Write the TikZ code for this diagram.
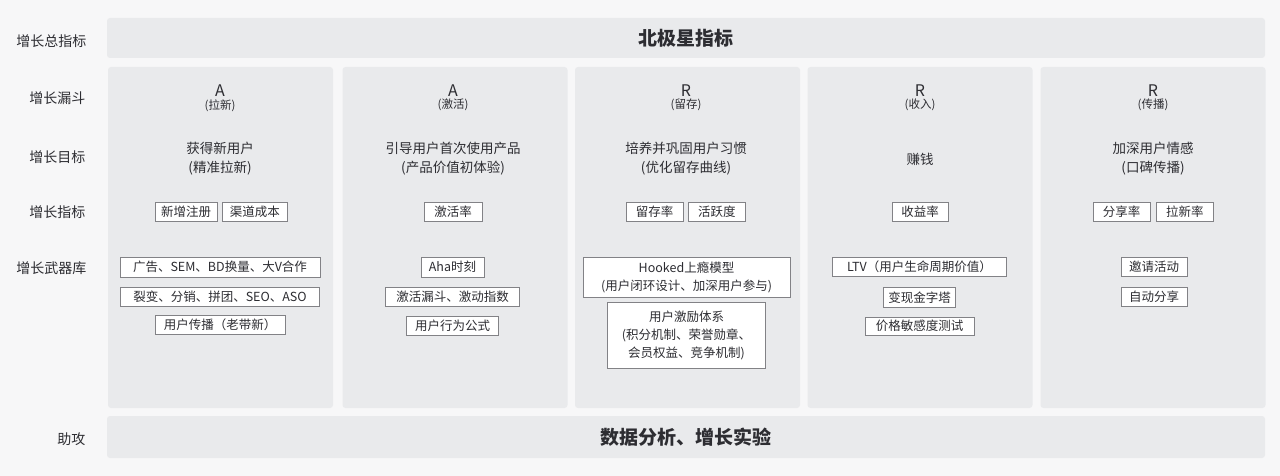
\documentclass[tikz,border=0pt]{standalone}
\usepackage{fontspec}
\newfontfamily\cjk{Noto Sans CJK SC}
\usetikzlibrary{positioning}
\definecolor{pagebg}{RGB}{247,247,248}
\definecolor{panelgray}{RGB}{233,234,236}
\definecolor{inkgray}{RGB}{45,45,50}
\definecolor{edgegray}{RGB}{130,130,134}
\tikzset{
x=1pt, y=-1pt, % one unit is one pixel of the reference
band/.style={fill=panelgray, rounded corners=3pt, minimum height=40pt, text=inkgray,
  font=\cjk\bfseries\fontsize{19}{22}\selectfont}, % the two wide rows
panel/.style={fill=panelgray, rounded corners=3pt, minimum width=225pt, minimum height=341pt}, % one column per funnel stage
rowlabel/.style={anchor=east, text=inkgray, font=\cjk\fontsize{14}{16}\selectfont}, % the names of the rows on the left
stage/.style={text=inkgray, inner sep=0pt, font=\cjk\fontsize{16}{18}\selectfont},
stagesub/.style={text=inkgray, inner sep=0pt, font=\cjk\fontsize{11.5}{13}\selectfont},
goal/.style={text=inkgray, align=center, font=\cjk\fontsize{13.5}{19}\selectfont},
tag/.style={draw=edgegray, fill=white, inner sep=1pt, minimum height=19pt, text=inkgray,
  align=center, font=\cjk\fontsize{12.5}{18}\selectfont}, % metric and weapon boxes
node distance=10pt,
}
\begin{document}
\begin{tikzpicture}
  \fill[pagebg] (0,0) rectangle (1280,476);
  \useasboundingbox (0,0) rectangle (1280,476);

  % rows on the left
  \node[rowlabel] (lnorth) at (90,41) {增长总指标};
  \node[rowlabel] (lfunnel) at (89,98) {增长漏斗};
  \node[rowlabel] (lgoal) at (89,157) {增长目标};
  \node[rowlabel] (lmetric) at (89,212) {增长指标};
  \node[rowlabel] (lweapon) at (90,268) {增长武器库};
  \node[rowlabel] (lassist) at (89,439) {助攻};

  % wide bands
  \node[band, minimum width=1158pt] (north) at (686,38) {北极星指标};
  \node[band, minimum width=1158pt, minimum height=42pt] (assist) at (686,437) {数据分析、增长实验};

  % stage columns
  \node[panel] (p1) at (220.5,237.5) {};
  \node[panel] (p2) at (455,237.5) {};
  \node[panel] (p3) at (687.5,237.5) {};
  \node[panel] (p4) at (920,237.5) {};
  \node[panel] (p5) at (1153,237.5) {};

  % acquisition
  \node[stage] (s1) at (220,91) {A};
  \node[stagesub, below=2pt of s1] (s1b) {(拉新)};
  \node[goal] (g1) at (220,159) {获得新用户\\(精准拉新)};
  \node[tag, minimum width=62pt] (m1a) at (186,212) {新增注册};
  \node[tag, minimum width=65pt, right=5pt of m1a] (m1b) {渠道成本};
  \node[tag, minimum width=200pt, minimum height=20pt] (w1a) at (220,267) {广告、SEM、BD换量、大V合作};
  \node[tag, minimum width=199pt, below=10pt of w1a] (w1b) {裂变、分销、拼团、SEO、ASO};
  \node[tag, minimum width=130pt, below=8pt of w1b] (w1c) {用户传播（老带新）};

  % activation
  \node[stage] (s2) at (453,91) {A};
  \node[stagesub, below=2pt of s2] (s2b) {(激活)};
  \node[goal] (g2) at (453,159) {引导用户首次使用产品\\(产品价值初体验)};
  \node[tag, minimum width=58pt] (m2a) at (453,212) {激活率};
  \node[tag, minimum width=63pt, minimum height=20pt] (w2a) at (452.5,267) {Aha时刻};
  \node[tag, minimum width=134pt, below=10pt of w2a] (w2b) {激活漏斗、激动指数};
  \node[tag, minimum width=92pt, below=9pt of w2b] (w2c) {用户行为公式};

  % retention
  \node[stage] (s3) at (686,91) {R};
  \node[stagesub, below=2pt of s3] (s3b) {(留存)};
  \node[goal] (g3) at (686,159) {培养并巩固用户习惯\\(优化留存曲线)};
  \node[tag, minimum width=57pt] (m3a) at (654.5,212) {留存率};
  \node[tag, minimum width=57pt, right=5pt of m3a] (m3b) {活跃度};
  \node[tag, minimum width=207pt, minimum height=40pt] (w3a) at (686.5,277) {Hooked上瘾模型\\(用户闭环设计、加深用户参与)};
  \node[tag, minimum width=158pt, minimum height=66pt, below=5pt of w3a] (w3b) {用户激励体系\\(积分机制、荣誉勋章、\\会员权益、竞争机制)};

  % revenue
  \node[stage] (s4) at (920,91) {R};
  \node[stagesub, below=2pt of s4] (s4b) {(收入)};
  \node[goal] (g4) at (920,159) {赚钱};
  \node[tag, minimum width=56pt] (m4a) at (920,212) {收益率};
  \node[tag, minimum width=174pt] (w4a) at (919.5,266.5) {LTV（用户生命周期价值）};
  \node[tag, minimum width=72pt, minimum height=20pt, below=11pt of w4a] (w4b) {变现金字塔};
  \node[tag, minimum width=109pt, minimum height=18pt, below=9pt of w4b] (w4c) {价格敏感度测试};

  % referral
  \node[stage] (s5) at (1153,91) {R};
  \node[stagesub, below=2pt of s5] (s5b) {(传播)};
  \node[goal] (g5) at (1153,159) {加深用户情感\\(口碑传播)};
  \node[tag, minimum width=57pt] (m5a) at (1121.5,212) {分享率};
  \node[tag, minimum width=57pt, right=6pt of m5a] (m5b) {拉新率};
  \node[tag, minimum width=66pt] (w5a) at (1154,266.5) {邀请活动};
  \node[tag, minimum width=66pt, below=11pt of w5a] (w5b) {自动分享};
\end{tikzpicture}
\end{document}
